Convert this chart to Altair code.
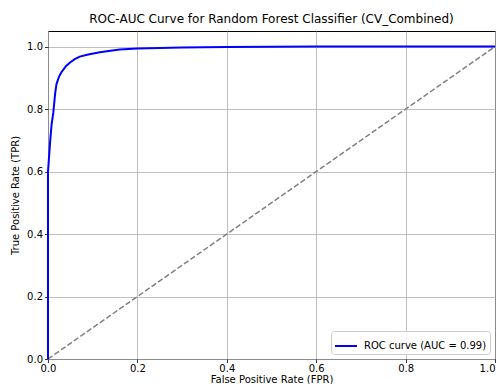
import altair as alt
import pandas as pd

fpr = [0.0, 0.0, 0.002, 0.005, 0.008, 0.012, 0.016, 0.019, 0.025, 0.03, 0.04, 0.05, 0.06, 0.071, 0.09, 0.116, 0.14, 0.16, 0.2, 0.3, 0.4, 0.6, 1.0]
tpr = [0.0, 0.60, 0.64, 0.70, 0.75, 0.79, 0.85, 0.88, 0.905, 0.918, 0.937, 0.95, 0.96, 0.968, 0.975, 0.982, 0.987, 0.991, 0.994, 0.997, 0.999, 1.0, 1.0]
diag_x = [0.0, 1.0]
diag_y = [0.0, 1.0]
series_name = "ROC curve (AUC = 0.99)"

roc = pd.DataFrame({"fpr": fpr, "tpr": tpr, "series": series_name, "order": range(len(fpr))})
diag = pd.DataFrame({"fpr": diag_x, "tpr": diag_y})

xs = alt.Scale(domain=[0, 1], nice=False, zero=False)
ys = alt.Scale(domain=[0, 1.05], nice=False, zero=False)
ticks = [0.0, 0.2, 0.4, 0.6, 0.8, 1.0]

x_axis = alt.Axis(values=ticks, format=".1f", title="False Positive Rate (FPR)",
                  titleY=23, titleBaseline="alphabetic", labelPadding=1, labelFlush=False,
                  labelAlign=alt.condition("datum.value >= 1", alt.value("right"), alt.value("center")))
y_axis = alt.Axis(values=ticks, format=".1f", title="True Positive Rate (TPR)",
                  titleX=-33, titleY=164, titleBaseline="middle", titleAlign="center",
                  labelFlush=False)

diag_line = alt.Chart(diag).mark_line(color="#808080", strokeWidth=1.5, strokeDash=[5.5, 2.4]).encode(
    x=alt.X("fpr:Q", scale=xs, axis=x_axis),
    y=alt.Y("tpr:Q", scale=ys, axis=y_axis),
)

roc_line = alt.Chart(roc).mark_line(strokeWidth=2).encode(
    x=alt.X("fpr:Q", scale=xs, axis=x_axis),
    y=alt.Y("tpr:Q", scale=ys, axis=y_axis),
    order="order:Q",
    color=alt.Color("series:N",
                    scale=alt.Scale(domain=[series_name], range=["#0000ff"]),
                    legend=alt.Legend(title=None, orient="bottom-right", offset=5,
                                      symbolType="stroke", symbolSize=484, symbolStrokeWidth=2,
                                      labelFontSize=10, labelFont="DejaVu Sans", labelColor="#000000",
                                      padding=3, strokeColor="#cccccc", fillColor="rgba(255,255,255,0.8)",
                                      cornerRadius=3, labelOffset=6)),
)

chart = alt.layer(diag_line, roc_line).properties(
    width=447, height=328,
    autosize=alt.AutoSizeParams(type="none"),
    padding={"left": 40, "top": 23, "right": 1, "bottom": 25},
    title=alt.Title("ROC-AUC Curve for Random Forest Classifier (CV_Combined)",
                    fontSize=12, fontWeight="normal", font="DejaVu Sans", color="#000000",
                    anchor="middle", offset=5),
).configure_view(
    stroke="#000000", strokeWidth=1
).configure_axis(
    domain=False, grid=True, gridColor="#b0b0b0", gridWidth=0.8,
    tickColor="#000000", tickWidth=0.8, tickSize=3.5,
    labelFont="DejaVu Sans", labelFontSize=10, labelColor="#000000",
    titleFont="DejaVu Sans", titleFontSize=10, titleColor="#000000", titleFontWeight="normal",
)

chart.save("out.html", embed_options={"renderer": "svg", "actions": False})
